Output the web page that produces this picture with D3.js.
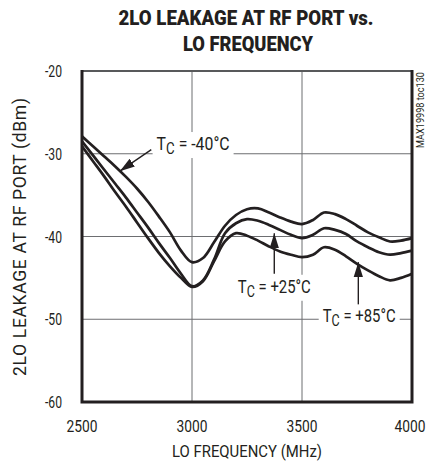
<!DOCTYPE html>
<html>
<head>
<meta charset="utf-8">
<script src="https://cdn.jsdelivr.net/npm/d3@7"></script>
<style>
  html, body { margin: 0; padding: 0; background: #fff; }
  svg { display: block; }
  text { font-family: Roboto, "Liberation Sans", sans-serif; fill: #231f20; }
</style>
</head>
<body>
<svg id="chart" width="430" height="464"></svg>
<script>
// ---- data ----
const freqMHz = [2500,2550,2600,2650,2700,2750,2800,2850,2900,2950,3000,3050,3100,3150,3200,3250,
                 3300,3350,3400,3450,3500,3550,3600,3650,3700,3750,3800,3850,3900,3950,4000];
const leakM40 = [-27.9,-29.1,-30.3,-31.5,-32.8,-34.2,-35.8,-37.6,-39.5,-41.7,-43.1,-42.6,-40.7,-38.7,-37.4,-36.7,
                 -36.6,-37.1,-37.7,-38.2,-38.5,-38.0,-37.1,-37.3,-37.9,-38.7,-39.5,-40.1,-40.6,-40.5,-40.2];
const leakP25 = [-28.5,-30.2,-31.9,-33.6,-35.3,-37.1,-38.9,-40.8,-42.6,-44.5,-46.0,-45.3,-42.8,-39.6,-38.4,-37.9,
                 -38.1,-38.6,-39.2,-39.8,-40.2,-39.8,-39.0,-39.2,-39.7,-40.6,-41.3,-41.9,-42.2,-42.0,-41.7];
const leakP85 = [-29.1,-30.9,-32.7,-34.6,-36.4,-38.3,-40.2,-42.0,-43.6,-45.0,-46.1,-45.4,-43.0,-40.6,-39.6,-39.9,
                 -40.5,-41.2,-41.8,-42.2,-42.5,-42.2,-41.3,-41.6,-42.4,-43.3,-44.1,-44.8,-45.3,-45.0,-44.5];
const xTicks = [2500, 3000, 3500, 4000];
const yTicks = [-20, -30, -40, -50, -60];
const seriesLabels = ["-40°C", "+25°C", "+85°C"];
const titleLines = ["2LO LEAKAGE AT RF PORT vs.", "LO FREQUENCY"];
const xTitle = "LO FREQUENCY (MHz)";
const yTitle = "2LO LEAKAGE AT RF PORT (dBm)";
const noteId = "MAX19998 toc130";
// annotation anchors in data units: tip / tail of arrow, label centre-x and baseline
const annotations = [
  {label: seriesLabels[0], tip: [2672, -32.1], tail: [2815, -29.5], text: [3005, -29.55]},
  {label: seriesLabels[1], tip: [3374, -39.6], tail: [3374, -44.5], text: [3374, -46.8]},
  {label: seriesLabels[2], tip: [3756, -43.1], tail: [3756, -48.2], text: [3760, -50.3]}
];

// ---- layout ----
const svg = d3.select("#chart");
const L = 82, R = 412, T = 71, B = 402;
const x = d3.scaleLinear().domain([2500, 4000]).range([L, R]);
const y = d3.scaleLinear().domain([-60, -20]).range([B, T]);
const ink = "#231f20";

function fitText(sel, w, mode) {
  sel.attr("textLength", w).attr("lengthAdjust", mode || "spacingAndGlyphs");
  return sel;
}

// title
fitText(svg.append("text").attr("x", 246).attr("y", 25).attr("text-anchor", "middle")
  .style("font-weight", "900").style("font-size", "20px").text(titleLines[0]), 255);
fitText(svg.append("text").attr("x", 248).attr("y", 51).attr("text-anchor", "middle")
  .style("font-weight", "900").style("font-size", "20px").text(titleLines[1]), 130);

// grid
const grid = svg.append("g").attr("stroke", "#6d6e71").attr("stroke-width", 1);
grid.selectAll("line.v").data(xTicks.slice(1, -1)).join("line")
  .attr("x1", d => x(d)).attr("x2", d => x(d)).attr("y1", T).attr("y2", B);
grid.selectAll("line.h").data(yTicks.slice(1, -1)).join("line")
  .attr("x1", L).attr("x2", R).attr("y1", d => y(d)).attr("y2", d => y(d));

// tick labels
svg.append("g").selectAll("text").data(yTicks).join("text")
  .attr("x", 62).attr("y", d => y(d) + 6).attr("text-anchor", "end")
  .style("font-size", "17px").text(d => d)
  .attr("textLength", 17).attr("lengthAdjust", "spacingAndGlyphs");
svg.append("g").selectAll("text").data(xTicks).join("text")
  .attr("x", d => x(d) - (d === 4000 ? 2 : 0)).attr("y", 432).attr("text-anchor", "middle")
  .style("font-size", "17px").text(d => d)
  .attr("textLength", 31).attr("lengthAdjust", "spacingAndGlyphs");

// axis titles
fitText(svg.append("text").attr("x", 247).attr("y", 457).attr("text-anchor", "middle")
  .style("font-size", "17px").text(xTitle), 150);
fitText(svg.append("text").attr("transform", "translate(26,237) rotate(-90)").attr("text-anchor", "middle")
  .style("font-size", "17.5px").text(yTitle), 278, "spacing");

// id note
fitText(svg.append("text").attr("transform", "translate(424,110) rotate(-90)").attr("text-anchor", "middle")
  .style("font-size", "10px").text(noteId), 76);

// annotation labels with white backgrounds
const annG = svg.append("g");
annotations.forEach(a => {
  const g = annG.append("g");
  const t = g.append("text").attr("x", 0).attr("y", 0)
    .attr("text-anchor", "middle").style("font-size", "19px");
  t.append("tspan").text("T");
  t.append("tspan").attr("dy", 4).style("font-size", "16px").text("C");
  t.append("tspan").attr("dy", -4).text(" = " + a.label);
  const bb = t.node().getBBox();
  const s = 73 / bb.width;
  g.attr("transform", `translate(${x(a.text[0])},${y(a.text[1])}) scale(${s},1)`);
  g.insert("rect", () => t.node())
    .attr("x", bb.x - 4 / s).attr("y", bb.y).attr("width", bb.width + 8 / s).attr("height", bb.height)
    .attr("fill", "#fff");
});

// curves
const line = d3.line().x((d, i) => x(freqMHz[i])).y(d => y(d)).curve(d3.curveCatmullRom.alpha(0.5));
svg.append("g").selectAll("path").data([leakM40, leakP25, leakP85]).join("path")
  .attr("d", line).attr("fill", "none").attr("stroke", ink).attr("stroke-width", 2.7)
  .attr("stroke-linejoin", "round");

// arrows
svg.append("defs").append("marker").attr("id", "ah")
  .attr("viewBox", "0 0 10 10").attr("refX", 10).attr("refY", 5)
  .attr("markerWidth", 15).attr("markerHeight", 15).attr("markerUnits", "userSpaceOnUse")
  .attr("orient", "auto")
  .append("path").attr("d", "M0,1.9 L10,5 L0,8.1 Z").attr("fill", ink);
svg.append("g").selectAll("line").data(annotations).join("line")
  .attr("x1", d => x(d.tail[0])).attr("y1", d => y(d.tail[1]))
  .attr("x2", d => x(d.tip[0])).attr("y2", d => y(d.tip[1]))
  .attr("stroke", ink).attr("stroke-width", 1.4).attr("marker-end", "url(#ah)");

// frame
svg.append("line").attr("x1", L).attr("x2", R).attr("y1", T).attr("y2", T)
  .attr("stroke", "#58595b").attr("stroke-width", 2);
svg.append("path").attr("d", `M${L},${T - 1}V${B}H${R}V${T - 1}`)
  .attr("fill", "none").attr("stroke", ink).attr("stroke-width", 3);
</script>
</body>
</html>
